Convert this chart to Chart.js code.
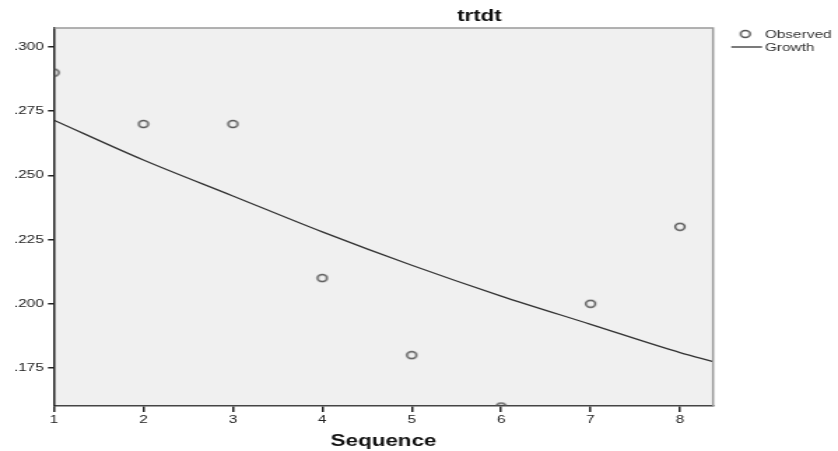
<!DOCTYPE html>
<html>
<head>
<meta charset="utf-8">
<title>trtdt</title>
<script src="https://cdn.jsdelivr.net/npm/chart.js@4.4.1/dist/chart.umd.min.js"></script>
<style>
    html, body { margin: 0; padding: 0; background: #fff; overflow: hidden; }
    /* the reference is stretched sideways, so draw narrow and stretch */
    #wrap {
        width: 599px;
        height: 451px;
        transform: scaleX(1.399);
        transform-origin: 0 0;
    }
</style>
</head>
<body>
<div id="wrap"><canvas id="trtdtChart"></canvas></div>
<script>
// Data
const chartTitle = 'trtdt';
const sequence = [1, 2, 3, 4, 5, 6, 7, 8];
const observed = [0.290, 0.270, 0.270, 0.210, 0.180, 0.160, 0.200, 0.230];
const growthX = [1, 2, 3, 4, 5, 6, 7, 8, 8.37];
const growthY = [0.2715, 0.256, 0.242, 0.228, 0.215, 0.203, 0.192, 0.181, 0.1775];
const xTicks = [1, 2, 3, 4, 5, 6, 7, 8];
const yTicks = [0.175, 0.200, 0.225, 0.250, 0.275, 0.300];
const legendLabels = ['Observed', 'Growth'];

const FONT = '"Liberation Sans", Arial, sans-serif';

// open circle marker
function makeMarker() {
    const c = document.createElement('canvas');
    c.width = 10;
    c.height = 10;
    const g = c.getContext('2d');
    g.strokeStyle = '#555';
    g.lineWidth = 1.5;
    g.beginPath();
    g.arc(5, 5, 3.4, 0, Math.PI * 2);
    g.stroke();
    return c;
}
const marker = makeMarker();

const decorPlugin = {
    id: 'decor',
    beforeDraw(chart) {
        const { ctx, chartArea: a } = chart;
        ctx.save();
        ctx.fillStyle = '#f0f0f0';
        ctx.fillRect(a.left, a.top, a.right - a.left, a.bottom - a.top);
        ctx.restore();
    },
    afterDraw(chart) {
        const { ctx, chartArea: a } = chart;
        ctx.save();
        // top and right frame
        ctx.strokeStyle = '#999';
        ctx.lineWidth = 1.5;
        ctx.beginPath();
        ctx.moveTo(a.left, a.top);
        ctx.lineTo(a.right, a.top);
        ctx.lineTo(a.right, a.bottom);
        ctx.stroke();

        // title
        ctx.fillStyle = '#111';
        ctx.font = 'bold 16px ' + FONT;
        ctx.textAlign = 'center';
        ctx.textBaseline = 'middle';
        ctx.fillText(chartTitle, a.right - 167, 17);

        // legend
        ctx.font = '11px ' + FONT;
        ctx.textAlign = 'left';
        ctx.fillStyle = '#333';
        ctx.drawImage(marker, a.right + 23 - 5, 34 - 5);
        ctx.fillText(legendLabels[0], a.right + 37, 35);
        ctx.strokeStyle = '#333';
        ctx.lineWidth = 1.3;
        ctx.beginPath();
        ctx.moveTo(a.right + 13, 47);
        ctx.lineTo(a.right + 35, 47);
        ctx.stroke();
        ctx.fillText(legendLabels[1], a.right + 37, 48);
        ctx.restore();
    }
};

const ctx = document.getElementById('trtdtChart').getContext('2d');
new Chart(ctx, {
    type: 'scatter',
    data: {
        datasets: [{
            label: legendLabels[0],
            data: sequence.map((x, i) => ({ x: x, y: observed[i] })),
            pointStyle: marker,
            pointRadius: 4,
            pointHoverRadius: 4,
            showLine: false,
            clip: 0
        }, {
            label: legendLabels[1],
            type: 'line',
            data: growthX.map((x, i) => ({ x: x, y: growthY[i] })),
            borderColor: '#333',
            borderWidth: 1.3,
            pointRadius: 0,
            fill: false,
            cubicInterpolationMode: 'monotone'
        }]
    },
    options: {
        responsive: true,
        maintainAspectRatio: false,
        animation: false,
        layout: {
            padding: { top: 28, right: 89.3, bottom: 0, left: 0 }
        },
        plugins: {
            legend: { display: false },
            title: { display: false },
            tooltip: { enabled: false }
        },
        scales: {
            x: {
                type: 'linear',
                min: 1,
                max: 8.37,
                afterBuildTicks: scale => {
                    scale.ticks = xTicks.map(v => ({ value: v }));
                },
                afterFit: scale => { scale.height = 45; },
                border: { color: '#444', width: 1.5 },
                grid: {
                    drawOnChartArea: false,
                    drawTicks: true,
                    tickLength: 6,
                    color: '#222',
                    lineWidth: 1.5
                },
                ticks: {
                    color: '#222',
                    padding: 1,
                    maxRotation: 0,
                    font: { family: FONT, size: 11 },
                    callback: v => String(v)
                },
                title: {
                    display: true,
                    text: 'Sequence',
                    color: '#111',
                    padding: 0,
                    font: { family: FONT, size: 16, weight: 'bold' }
                }
            },
            y: {
                type: 'linear',
                min: 0.1602,
                max: 0.3074,
                afterBuildTicks: scale => {
                    scale.ticks = yTicks.map(v => ({ value: v }));
                },
                afterFit: scale => { scale.width = 38.6; },
                border: { color: '#222', width: 1.5 },
                grid: {
                    drawOnChartArea: false,
                    drawTicks: true,
                    tickLength: 4.3,
                    color: '#222',
                    lineWidth: 1.5
                },
                ticks: {
                    color: '#222',
                    padding: 3,
                    font: { family: FONT, size: 11 },
                    callback: v => v.toFixed(3).replace(/^0/, '')
                }
            }
        }
    },
    plugins: [decorPlugin]
});
</script>
</body>
</html>
